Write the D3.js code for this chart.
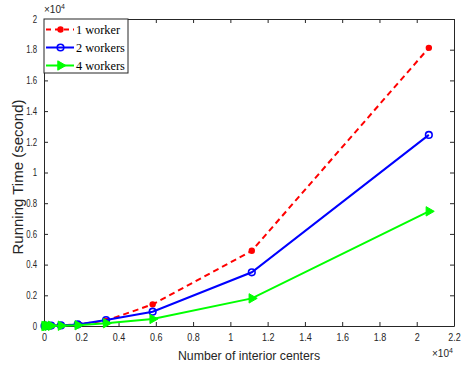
<!DOCTYPE html>
<html>
<head>
<meta charset="utf-8">
<script src="https://cdn.jsdelivr.net/npm/d3@7"></script>
<style>
  body { margin: 0; background: #fff; }
  text { font-family: "Liberation Sans", Arial, sans-serif; fill: #262626; }
  .legend text { font-family: "Liberation Serif", "Times New Roman", serif; fill: #000; }
</style>
</head>
<body>
<svg width="464" height="367"></svg>
<script>
const svg = d3.select("svg");

// data (x in units of 1e4 centers, y in units of 1e4 seconds)
const centers = [0.003, 0.011, 0.021, 0.038, 0.091, 0.181, 0.333, 0.583, 1.115, 2.065];
const worker1 = [0.0002, 0.0008, 0.0015, 0.003, 0.004, 0.011, 0.035, 0.141, 0.49, 1.812];
const worker2 = [0.0002, 0.0007, 0.0013, 0.0025, 0.0035, 0.01, 0.039, 0.093, 0.35, 1.245];
const worker4 = [0.0001, 0.0004, 0.0008, 0.0015, 0.002, 0.005, 0.018, 0.046, 0.18, 0.747];
const xTicks = [0, 0.2, 0.4, 0.6, 0.8, 1, 1.2, 1.4, 1.6, 1.8, 2, 2.2];
const yTicks = [0, 0.2, 0.4, 0.6, 0.8, 1, 1.2, 1.4, 1.6, 1.8, 2];

const mLeft = 44, mRight = 454, mTop = 19, mBottom = 326;

const x = d3.scaleLinear().domain([0, 2.2]).range([mLeft, mRight]);
const y = d3.scaleLinear().domain([0, 2]).range([mBottom, mTop]);

// axes with inward ticks
const axisColor = "#262626";
function styleAxis(g) {
  g.select(".domain").attr("stroke", axisColor);
  g.selectAll(".tick line").attr("stroke", axisColor);
  g.selectAll(".tick text").attr("font-size", 10).attr("fill", axisColor);
}

svg.append("g")
  .attr("transform", `translate(0,${mBottom})`)
  .call(d3.axisBottom(x).tickValues(xTicks).tickFormat(d3.format("")).tickSizeInner(-4).tickSizeOuter(0).tickPadding(8))
  .call(styleAxis)
  .selectAll(".tick text").attr("transform", "scale(0.9,1)");
svg.append("g")
  .attr("transform", `translate(0,${mTop})`)
  .call(d3.axisTop(x).tickValues(xTicks).tickFormat("").tickSizeInner(-4).tickSizeOuter(0))
  .call(styleAxis);
svg.append("g")
  .attr("transform", `translate(${mLeft},0)`)
  .call(d3.axisLeft(y).tickValues(yTicks).tickFormat(d3.format("")).tickSizeInner(-4).tickSizeOuter(0).tickPadding(9))
  .call(styleAxis)
  .selectAll(".tick text").attr("transform", "scale(0.78,1)");
svg.append("g")
  .attr("transform", `translate(${mRight},0)`)
  .call(d3.axisRight(y).tickValues(yTicks).tickFormat("").tickSizeInner(-4).tickSizeOuter(0))
  .call(styleAxis);

// exponent labels
const e1 = svg.append("text").attr("x", 44).attr("y", 13).attr("font-size", 10);
e1.append("tspan").text("\u00d710");
e1.append("tspan").attr("font-size", 7).attr("dy", -4).text("4");
const e2 = svg.append("text").attr("x", 432).attr("y", 357).attr("font-size", 10);
e2.append("tspan").text("\u00d710");
e2.append("tspan").attr("font-size", 7).attr("dy", -4).text("4");

// axis titles
svg.append("text")
  .attr("x", 249).attr("y", 360)
  .attr("text-anchor", "middle").attr("font-size", 12.3)
  .text("Number of interior centers");
svg.append("text")
  .attr("transform", `translate(23,177) rotate(-90)`)
  .attr("text-anchor", "middle").attr("font-size", 15)
  .text("Running Time (second)");

const line = d3.line().x(d => x(d[0])).y(d => y(d[1]));
const tri = d3.symbol().type(d3.symbolTriangle).size(38);

const series = [
  { name: "1 worker", values: worker1, color: "#ff0000", dash: "6,4", marker: "dot" },
  { name: "2 workers", values: worker2, color: "#0000ff", dash: null, marker: "circle" },
  { name: "4 workers", values: worker4, color: "#00ff00", dash: null, marker: "tri" }
];

function drawMarker(g, s, cx, cy) {
  if (s.marker === "dot") {
    g.append("circle").attr("cx", cx).attr("cy", cy).attr("r", 3.2).attr("fill", s.color);
  } else if (s.marker === "circle") {
    g.append("circle").attr("cx", cx).attr("cy", cy).attr("r", 3.3)
      .attr("fill", "none").attr("stroke", s.color).attr("stroke-width", 1.6);
  } else {
    g.append("path").attr("d", tri)
      .attr("transform", `translate(${cx},${cy}) rotate(90)`)
      .attr("fill", s.color).attr("stroke", s.color).attr("stroke-width", 1);
  }
}

series.forEach(s => {
  const pts = centers.map((c, i) => [c, s.values[i]]);
  svg.append("path").datum(pts)
    .attr("d", line)
    .attr("fill", "none")
    .attr("stroke", s.color)
    .attr("stroke-width", 2)
    .attr("stroke-dasharray", s.dash);
  const g = svg.append("g");
  pts.forEach(p => drawMarker(g, s, x(p[0]), y(p[1])));
});

// legend
const lg = svg.append("g").attr("class", "legend");
lg.append("rect").attr("x", mLeft).attr("y", mTop).attr("width", 84).attr("height", 54)
  .attr("fill", "#fff").attr("stroke", axisColor).attr("stroke-width", 1);
series.forEach((s, i) => {
  const ly = 29.5 + i * 18;
  lg.append("line").attr("x1", 46).attr("x2", 74).attr("y1", ly).attr("y2", ly)
    .attr("stroke", s.color).attr("stroke-width", 2).attr("stroke-dasharray", s.dash ? "5,4" : null);
  drawMarker(lg, s, 60.5, ly);
  lg.append("text").attr("x", 76).attr("y", ly + 4.2).attr("font-size", 12.3).text(s.name);
});
</script>
</body>
</html>
